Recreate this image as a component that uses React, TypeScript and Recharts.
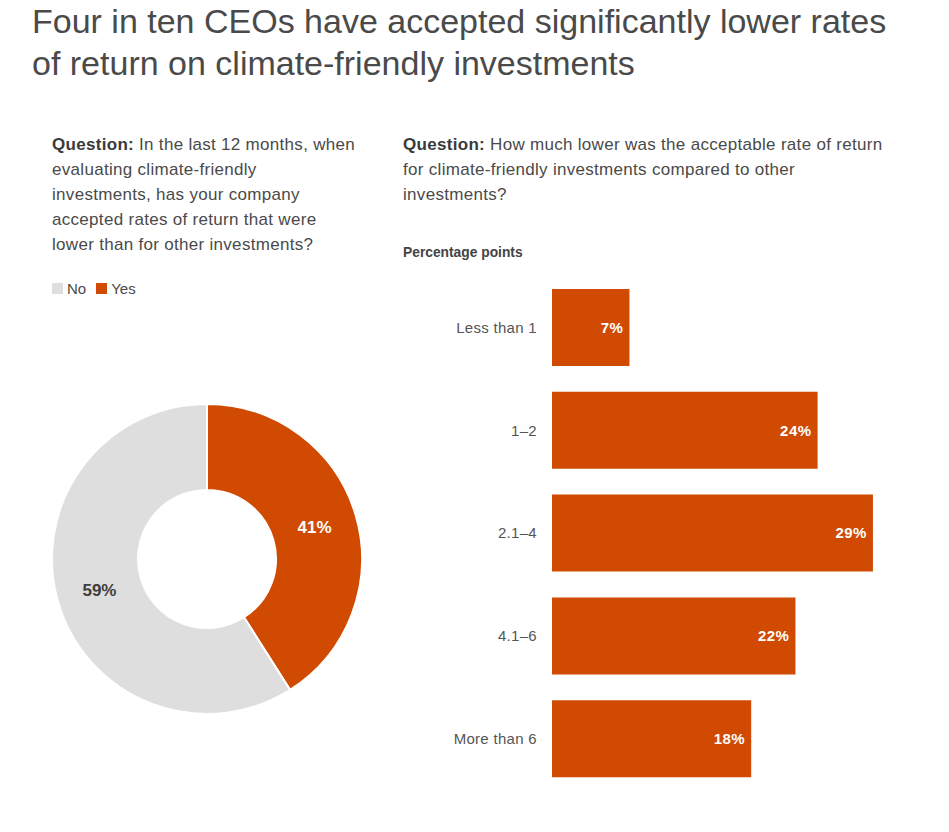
import { PieChart, Pie, Cell, BarChart, Bar, XAxis, YAxis, LabelList } from "recharts"

const answers = ["Yes", "No"]
const answerShares = [41, 59]
const answerColors = ["#D04A02", "#DEDEDE"]
const answerLabelColors = ["#ffffff", "#3d3d3d"]

const legendItems = ["No", "Yes"]
const legendColors = ["#DEDEDE", "#D04A02"]

const ranges = ["Less than 1", "1–2", "2.1–4", "4.1–6", "More than 6"]
const rangeShares = [7, 24, 29, 22, 18]

const FONT = '"Liberation Sans", Arial, Helvetica, sans-serif'
const ORANGE = "#D04A02"
const RADIAN = Math.PI / 180

const pieData = answers.map((name, i) => ({ name, value: answerShares[i] }))
const barData = ranges.map((range, i) => ({ range, value: rangeShares[i] }))

function DonutLabel(props: any) {
  const { cx, cy, midAngle, innerRadius, outerRadius, value, index } = props
  const r = (innerRadius + outerRadius) / 2
  const x = cx + r * Math.cos(-midAngle * RADIAN)
  const y = cy + r * Math.sin(-midAngle * RADIAN)
  return (
    <text
      x={x}
      y={y}
      textAnchor="middle"
      dominantBaseline="central"
      fill={answerLabelColors[index]}
      fontSize={17}
      fontWeight="bold"
      fontFamily={FONT}
    >
      {value}%
    </text>
  )
}

const questionStyle: React.CSSProperties = {
  position: "absolute",
  top: 132,
  fontSize: 17,
  letterSpacing: 0.3,
  lineHeight: "25px",
  color: "#4a4a4a",
  margin: 0,
  whiteSpace: "nowrap",
}

export default function App() {
  return (
    <div
      style={{
        position: "absolute",
        left: 0,
        top: 0,
        width: 949,
        height: 832,
        background: "#fff",
        fontFamily: FONT,
        overflow: "hidden",
      }}
    >
      <div
        style={{
          position: "absolute",
          left: 32,
          top: 0,
          fontSize: 34,
          lineHeight: "42px",
          color: "#4a4a4a",
          whiteSpace: "nowrap",
        }}
      >
        Four in ten CEOs have accepted significantly lower rates
        <br />
        of return on climate-friendly investments
      </div>

      <p style={{ ...questionStyle, left: 52 }}>
        <b style={{ color: "#3a3a3a" }}>Question:</b> In the last 12 months, when
        <br />
        evaluating climate-friendly
        <br />
        investments, has your company
        <br />
        accepted rates of return that were
        <br />
        lower than for other investments?
      </p>

      <p style={{ ...questionStyle, left: 403 }}>
        <b style={{ color: "#3a3a3a" }}>Question:</b> How much lower was the acceptable rate of return
        <br />
        for climate-friendly investments compared to other
        <br />
        investments?
      </p>

      <div
        style={{
          position: "absolute",
          left: 403,
          top: 245,
          fontSize: 13.8,
          lineHeight: "16px",
          fontWeight: "bold",
          color: "#444",
        }}
      >
        Percentage points
      </div>

      <div style={{ position: "absolute", left: 52, top: 280, display: "flex", fontSize: 15, color: "#4a4a4a" }}>
        {legendItems.map((item, i) => (
          <div key={item} style={{ display: "flex", alignItems: "center", marginRight: 10 }}>
            <span
              style={{ width: 11, height: 11, background: legendColors[i], display: "inline-block", marginRight: 4 }}
            />
            <span>{item}</span>
          </div>
        ))}
      </div>

      <div style={{ position: "absolute", left: 47, top: 399 }}>
        <PieChart width={320} height={320} margin={{ top: 0, right: 0, bottom: 0, left: 0 }}>
          <Pie
            data={pieData}
            dataKey="value"
            nameKey="name"
            cx={160}
            cy={160}
            innerRadius={69}
            outerRadius={155}
            startAngle={90}
            endAngle={-270}
            stroke="#ffffff"
            strokeWidth={2}
            label={DonutLabel}
            labelLine={false}
            isAnimationActive={false}
          >
            {pieData.map((d, i) => (
              <Cell key={d.name} fill={answerColors[i]} />
            ))}
          </Pie>
        </PieChart>
      </div>

      <div style={{ position: "absolute", left: 400, top: 276 }}>
        <BarChart
          width={484}
          height={514}
          data={barData}
          layout="vertical"
          margin={{ top: 0, right: 0, bottom: 0, left: 0 }}
        >
          <XAxis type="number" domain={[0, 30]} hide />
          <YAxis
            type="category"
            dataKey="range"
            width={152}
            axisLine={false}
            tickLine={false}
            tickMargin={9}
            tick={{ fontSize: 15, fill: "#555", fontFamily: FONT, letterSpacing: 0.3 }}
          />
          <Bar dataKey="value" fill={ORANGE} barSize={77} isAnimationActive={false}>
            <LabelList
              dataKey="value"
              position="insideRight"
              offset={6}
              formatter={(v: any) => `${v}%`}
              style={{ fill: "#fff", fontSize: 15, fontWeight: "bold", fontFamily: FONT, letterSpacing: 0.5 }}
            />
          </Bar>
        </BarChart>
      </div>
    </div>
  )
}
